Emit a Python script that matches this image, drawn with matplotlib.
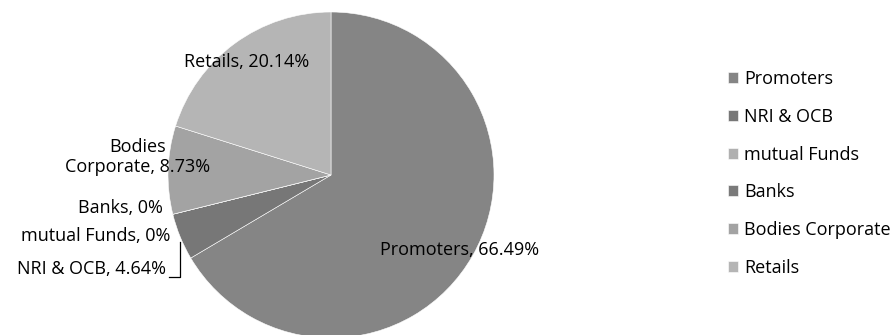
import matplotlib.pyplot as plt

categories = ["Promoters", "NRI & OCB", "mutual Funds", "Banks", "Bodies Corporate", "Retails"]
shares = [66.49, 4.64, 0, 0, 8.73, 20.14]
colors = ["#858585", "#777777", "#b0b0b0", "#7a7a7a", "#a3a3a3", "#b5b5b5"]

plt.rcParams['font.family'] = ['Open Sans', 'DejaVu Sans']

fig = plt.figure(figsize=(8.94, 3.35), dpi=100)
# pie centre ~ (331, 175) px, radius ~163 px
r_px = 163
cx, cy = 331, 335 - 175
ax = fig.add_axes([(cx - r_px) / 894, (cy - r_px) / 335, 2 * r_px / 894, 2 * r_px / 335])

wedges, _ = ax.pie(shares, colors=colors, startangle=90, counterclock=False,
                   radius=1, wedgeprops=dict(edgecolor="white", linewidth=0.4))
ax.set_xlim(-1, 1)
ax.set_ylim(-1, 1)
ax.set_aspect('equal')
ax.axis('off')

def px(x, y):
    return ((x - 331) / r_px, (175 - y) / r_px)

fs = 13
lbl = lambda i: f"{categories[i]}, {shares[i]:g}%"
ax.text(*px(460, 250), lbl(0), ha='center', va='center', fontsize=fs)
ax.text(*px(247, 62), lbl(5), ha='center', va='center', fontsize=fs)
ax.text(*px(138, 157), "Bodies\nCorporate, " + f"{shares[4]:g}%", ha='center', va='center',
        fontsize=fs, linespacing=1.15)
ax.text(*px(163, 208), lbl(3), ha='right', va='center', fontsize=fs)
ax.text(*px(170, 236), lbl(2), ha='right', va='center', fontsize=fs)
ax.text(*px(166, 269), lbl(1), ha='right', va='center', fontsize=fs)

# leader line for NRI & OCB
lx, ly = zip(px(169, 277), px(180, 277), px(180, 242))
ax.plot(lx, ly, color="black", linewidth=0.9, clip_on=False)

fig.legend(wedges, categories, loc='upper left', bbox_to_anchor=(712 / 894, 1 - 54 / 335),
           frameon=False, fontsize=fs, labelspacing=1.09, handlelength=0.55,
           handleheight=0.55, handletextpad=0.35)

fig.savefig("out.png", dpi=100)
